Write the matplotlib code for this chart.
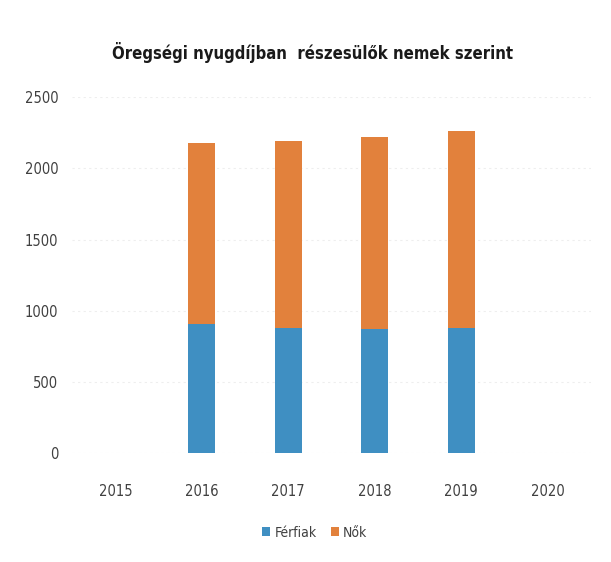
import matplotlib
matplotlib.use("Agg")
from matplotlib import pyplot as plt

plt.rcParams['font.family'] = ['DejaVu Sans']
plt.rcParams['font.stretch'] = 'condensed'

years = [2015, 2016, 2017, 2018, 2019, 2020]
ferfiak = [0, 906, 878, 871, 878, 0]
nok = [0, 1271, 1313, 1348, 1383, 0]

blue = "#3f8fc2"
orange = "#e2813c"

fig = plt.figure(figsize=(6.11, 5.62), dpi=100)
ax = fig.add_axes([0.118, 0.194, 0.849, 0.633])

x = list(range(len(years)))
ax.bar(x, ferfiak, width=0.31, color=blue, label="Férfiak", zorder=3)
ax.bar(x, nok, width=0.31, bottom=ferfiak, color=orange, label="Nők", zorder=3)

ax.set_xlim(-0.5, len(years) - 0.5)
ax.set_ylim(0, 2500)
ax.set_yticks(range(0, 2501, 500))
ax.set_xticks(x)
ax.set_xticklabels([str(y) for y in years])
ax.tick_params(length=0, labelsize=10.5, colors="#404040", pad=10)
ax.tick_params(axis='x', pad=22)
ax.yaxis.grid(True, color="#eeeeee", linewidth=0.8, linestyle=(0, (2, 3)))
for s in ax.spines.values():
    s.set_visible(False)

fig.suptitle("Öregségi nyugdíjban  részesülők nemek szerint", x=0.512, y=0.907,
             va="center", fontsize=12, fontweight="bold", color="#1a1a1a")

fig.legend(loc="center", bbox_to_anchor=(0.515, 0.052), ncol=2, frameon=False,
           fontsize=10, handlelength=0.6, handleheight=0.6, handletextpad=0.3,
           columnspacing=1.0, labelcolor="#404040")

fig.savefig("out.png", dpi=100)
